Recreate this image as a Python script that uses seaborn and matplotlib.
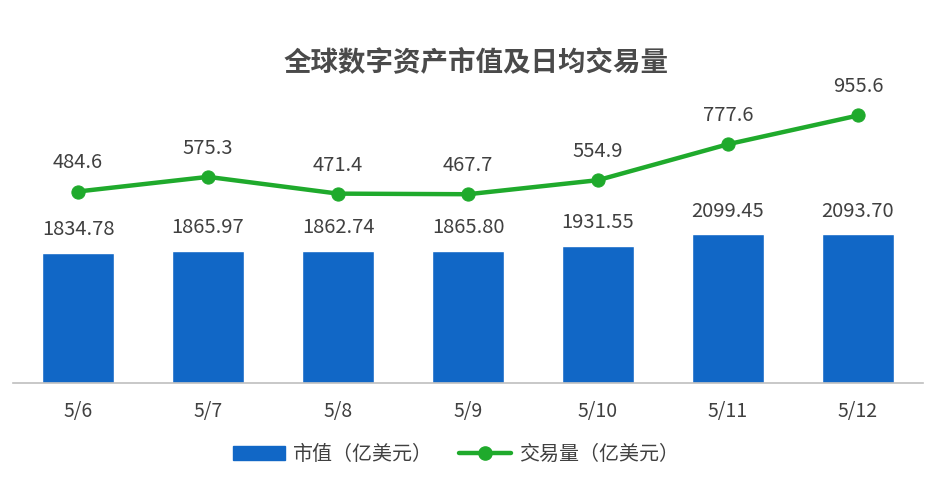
import matplotlib
matplotlib.use("Agg")
import matplotlib.pyplot as plt
import seaborn as sns
import pandas as pd
import numpy as np
from matplotlib.lines import Line2D
from matplotlib.patches import Patch

dates = ["5/6", "5/7", "5/8", "5/9", "5/10", "5/11", "5/12"]
market_cap = [1834.78, 1865.97, 1862.74, 1865.80, 1931.55, 2099.45, 2093.70]
volume = [484.6, 575.3, 471.4, 467.7, 554.9, 777.6, 955.6]
title = "全球数字资产市值及日均交易量"
bar_name = "市值（亿美元）"
line_name = "交易量（亿美元）"

sns.set_theme(style="white")
plt.rcParams['font.family'] = ['Noto Sans CJK SC', 'DejaVu Sans']

BLUE = "#1167C6"
GREEN = "#1FAA2C"
TXT = "#404040"

fig = plt.figure(figsize=(9.4, 4.9), dpi=100)
ax = fig.add_axes([13/940, 1-383/490, 910/940, 300/490])
df = pd.DataFrame({"d": dates, "m": market_cap})
sns.barplot(data=df, x="d", y="m", color=BLUE, width=0.56, saturation=1, ax=ax)
ax.set_xlim(-0.5, 6.5)
ax.set_ylim(0, 2099.45*300/149)
ax2 = ax.twinx()
ax2.set_position(ax.get_position())
sns.lineplot(x=np.arange(7), y=volume, color=GREEN, lw=3.2, marker="o", ms=9.5,
             mec=GREEN, ax=ax2, errorbar=None)
scale = (191-115)/(955.6-484.6)
base_bottom = 484.6-(383-191.5)/scale
ax2.set_ylim(base_bottom, base_bottom+300/scale)
ax2.grid(False); ax.grid(False)
ax2.set_yticks([]); ax.set_yticks([])
ax.set_xlabel(""); ax.set_ylabel(""); ax2.set_ylabel("")
for s in ["top", "left", "right"]:
    ax.spines[s].set_visible(False); ax2.spines[s].set_visible(False)
ax2.spines["bottom"].set_visible(False)
ax.spines["bottom"].set_color("#BFBFBF")
ax.spines["bottom"].set_linewidth(1.2)
ax.tick_params(axis="x", length=0, pad=13, labelsize=14, labelcolor=TXT)
for i, v in enumerate(market_cap):
    ax.annotate(f"{v:.2f}", (i, v), xytext=(0, 9), textcoords="offset points",
                ha="center", va="bottom", fontsize=14.5, color=TXT)
for i, v in enumerate(volume):
    ax2.annotate(f"{v:.1f}", (i, v), xytext=(0, 13), textcoords="offset points",
                 ha="center", va="bottom", fontsize=14.5, color=TXT)
fig.text(476/940, 1-63/490, title, ha="center", va="center", fontsize=19.8,
         fontweight="bold", color="#4A4A4A")
handles = [Patch(color=BLUE, label=bar_name),
           Line2D([], [], color=GREEN, lw=3.2, marker="o", ms=9.5, label=line_name)]
fig.legend(handles=handles, loc="center", bbox_to_anchor=(456/940, 1-454/490), ncol=2,
           frameon=False, fontsize=14.4, labelcolor=TXT, handlelength=2.6, handleheight=0.7,
           columnspacing=1.3, handletextpad=0.4)
fig.savefig("out.png", dpi=100)
